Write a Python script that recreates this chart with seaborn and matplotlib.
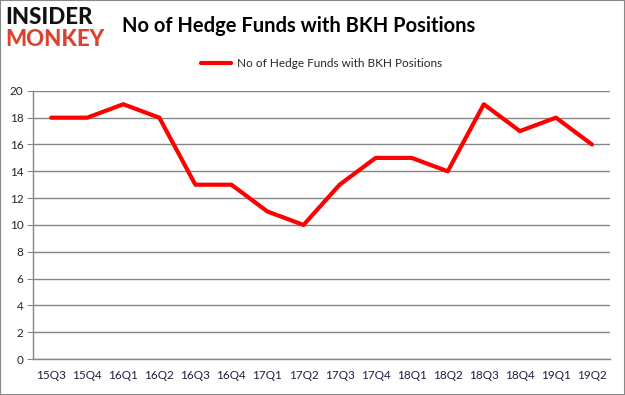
import numpy as np
import pandas as pd
import matplotlib
matplotlib.use("Agg")
import matplotlib.pyplot as plt
import seaborn as sns
from matplotlib.patches import Rectangle

# Chart data
quarters = ["15Q3", "15Q4", "16Q1", "16Q2", "16Q3", "16Q4", "17Q1", "17Q2",
            "17Q3", "17Q4", "18Q1", "18Q2", "18Q3", "18Q4", "19Q1", "19Q2"]
fund_counts = [18, 18, 19, 18, 13, 13, 11, 10, 13, 15, 15, 14, 19, 17, 18, 16]
series_name = "No of Hedge Funds with BKH Positions"
y_ticks = [0, 2, 4, 6, 8, 10, 12, 14, 16, 18, 20]

sns.set_style("white")
plt.rcParams['font.family'] = ['Lato', 'DejaVu Sans']

df = pd.DataFrame({"quarter": quarters, "funds": fund_counts})
df["pos"] = np.arange(len(quarters))

figure = plt.figure(figsize = (6.25, 3.95), dpi = 100)
axes = figure.add_axes([0.053, 0.091, 0.923, 0.679])

sns.lineplot(data = df, x = "pos", y = "funds", color = "#ff0000", linewidth = 3,
             ax = axes, label = series_name, legend = False)

# Grid and axes
axes.set_ylim(0, 20)
axes.set_xlim(-0.5, len(quarters) - 0.5)
axes.set_yticks(y_ticks)
axes.yaxis.grid(True, color = "#868686", linewidth = 1)
axes.set_axisbelow(True)
axes.set_xticks(np.arange(len(quarters)))
axes.set_xticklabels(quarters)
axes.set_xticks(np.arange(-0.5, len(quarters)), minor = True)
axes.tick_params(axis = "x", which = "major", length = 0, labelsize = 8.5, pad = 8, labelcolor = "#1f1f3f")
axes.tick_params(axis = "x", which = "minor", length = 4, color = "#868686", width = 1)
axes.tick_params(axis = "y", length = 4, color = "#868686", labelsize = 8.5, pad = 3, left = True)
axes.set_xlabel("")
axes.set_ylabel("")
for side in ["top", "right"]:
    axes.spines[side].set_visible(False)
for side in ["left", "bottom"]:
    axes.spines[side].set_color("#868686")
    axes.spines[side].set_linewidth(1)

# Legend
axes.legend(loc = "lower center", bbox_to_anchor = (0.5, 1.04), frameon = False,
            fontsize = 8.5, handlelength = 2.6, handletextpad = 0.5)

# Title and logo
figure.text(0.195, 0.935, "No of Hedge Funds with BKH Positions", fontsize = 14.5,
            fontweight = "bold", ha = "left", va = "center", color = "#000000")
figure.text(0.008, 0.955, "INSIDER", fontsize = 16, fontweight = "black",
            ha = "left", va = "center", color = "#111111")
figure.text(0.008, 0.9, "MONKEY", fontsize = 16, fontweight = "black",
            ha = "left", va = "center", color = "#d94430")

figure.patches.append(Rectangle((0, 0), 1, 1, transform = figure.transFigure,
                                fill = False, edgecolor = "#888888", linewidth = 1.5))

figure.savefig("out.png", dpi = 100)
plt.close(figure)
